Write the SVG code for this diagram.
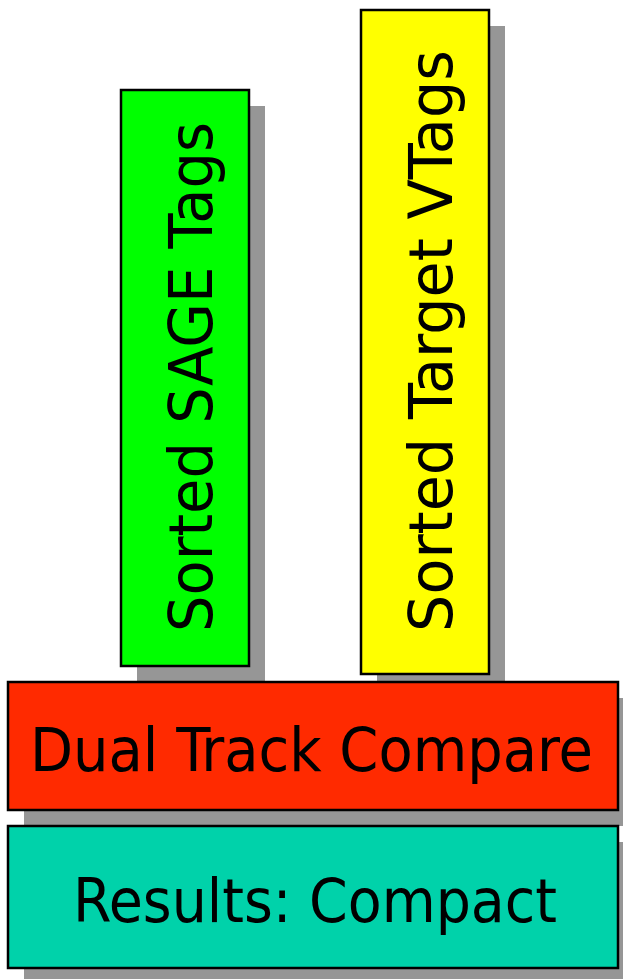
<svg xmlns="http://www.w3.org/2000/svg" width="623" height="979" viewBox="0 0 623 979">
<style>
.shadow{fill:#969696}
.box{stroke:#000;stroke-width:2.5}
.lbl{font-family:"DejaVu Sans",Verdana,sans-serif;font-stretch:condensed;font-size:61px;fill:#000}
</style>
<rect width="623" height="979" fill="#fff"/>
<g id="sage">
<rect class="shadow" x="137" y="106" width="128" height="576"/>
<rect class="box" x="121" y="90" width="128" height="576" fill="#00ff00"/>
<text class="lbl" transform="translate(212,632) rotate(-90)" textLength="510" lengthAdjust="spacingAndGlyphs">Sorted SAGE Tags</text>
</g>
<g id="target">
<rect class="shadow" x="377" y="26" width="128" height="664"/>
<rect class="box" x="361" y="10" width="128" height="664" fill="#ffff00"/>
<text class="lbl" transform="translate(452,632) rotate(-90)" textLength="582" lengthAdjust="spacingAndGlyphs">Sorted Target VTags</text>
</g>
<g id="dual">
<rect class="shadow" x="24" y="698" width="599" height="128"/>
<rect class="box" x="8" y="682" width="610" height="128" fill="#ff2a00"/>
<text class="lbl" x="30" y="771" textLength="563" lengthAdjust="spacingAndGlyphs">Dual Track Compare</text>
</g>
<g id="results">
<rect class="shadow" x="24" y="842" width="599" height="137"/>
<rect class="box" x="8" y="826" width="610" height="142" fill="#00d2aa"/>
<text class="lbl" x="73" y="922" textLength="484" lengthAdjust="spacingAndGlyphs">Results: Compact</text>
</g>
<g id="connectors"/>
</svg>
